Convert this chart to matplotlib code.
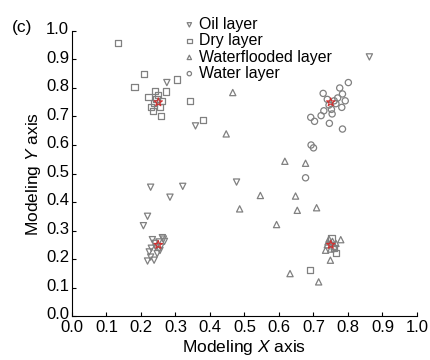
import matplotlib
matplotlib.use("Agg")
import matplotlib.pyplot as plt
from matplotlib.transforms import ScaledTranslation

plt.rcParams['font.family'] = ['Liberation Sans', 'DejaVu Sans']
plt.rcParams['mathtext.fontset'] = 'custom'
plt.rcParams['mathtext.it'] = 'Liberation Sans:italic'
plt.rcParams['mathtext.rm'] = 'Liberation Sans'

# Oil layer (down triangles)
oil_x = [0.862, 0.275, 0.358, 0.477, 0.228, 0.321, 0.284, 0.219, 0.207,
         0.233, 0.243, 0.224, 0.219, 0.238, 0.262, 0.252, 0.247, 0.228, 0.257,
         0.265, 0.240, 0.230, 0.255, 0.268]
oil_y = [0.909, 0.819, 0.667, 0.470, 0.452, 0.455, 0.417, 0.350, 0.317,
         0.268, 0.242, 0.225, 0.193, 0.196, 0.275, 0.260, 0.219, 0.207, 0.242,
         0.270, 0.255, 0.238, 0.230, 0.262]

# Dry layer (squares)
dry_x = [0.134, 0.208, 0.181, 0.304, 0.272, 0.342, 0.380, 0.258, 0.229,
         0.234, 0.222, 0.241, 0.256, 0.245, 0.250, 0.238, 0.260, 0.691, 0.766,
         0.760, 0.752]
dry_y = [0.958, 0.849, 0.804, 0.830, 0.788, 0.755, 0.688, 0.702, 0.732,
         0.718, 0.769, 0.790, 0.734, 0.760, 0.775, 0.748, 0.755, 0.161, 0.221,
         0.240, 0.272]

# Waterflooded layer (up triangles)
wf_x = [0.466, 0.447, 0.617, 0.677, 0.546, 0.648, 0.486, 0.653, 0.709,
        0.593, 0.632, 0.715, 0.779, 0.749, 0.735, 0.745, 0.755, 0.740, 0.760,
        0.750, 0.742, 0.765]
wf_y = [0.784, 0.639, 0.543, 0.536, 0.423, 0.421, 0.376, 0.371, 0.380,
        0.321, 0.149, 0.120, 0.268, 0.196, 0.231, 0.270, 0.262, 0.250, 0.245,
        0.235, 0.260, 0.255]

# Water layer (circles)
water_x = [0.677, 0.693, 0.700, 0.801, 0.692, 0.703, 0.746, 0.784, 0.728,
           0.776, 0.784, 0.754, 0.782, 0.730, 0.722, 0.792, 0.760, 0.745,
           0.770, 0.740, 0.765, 0.752]
water_y = [0.485, 0.600, 0.590, 0.819, 0.697, 0.683, 0.676, 0.656, 0.781,
           0.800, 0.779, 0.709, 0.732, 0.720, 0.703, 0.755, 0.755, 0.740,
           0.765, 0.760, 0.745, 0.725]

# cluster centres (red)
centre_x = [0.25, 0.25, 0.75, 0.75]
centre_y = [0.75, 0.25, 0.75, 0.25]

grey = '#808080'
fig = plt.figure(figsize=(4.31, 3.60), dpi=100)
ax = fig.add_axes([0.167, 0.122, 417 / 431 - 0.167, 0.792])

kw = dict(facecolor='none', edgecolors=grey, linewidths=0.9, s=20)
ax.scatter(oil_x, oil_y, marker='v', label='Oil layer', **kw)
ax.scatter(dry_x, dry_y, marker='s', label='Dry layer', **kw)
ax.scatter(wf_x, wf_y, marker='^', label='Waterflooded layer', **kw)
ax.scatter(water_x, water_y, marker='o', label='Water layer', **kw)
ax.scatter(centre_x, centre_y, marker='*', facecolor='none',
           edgecolors='#d03030', linewidths=0.8, s=40, zorder=3)

ax.set_xlim(0, 1.0)
ax.set_ylim(0, 1.0)
ticks = [i / 10 for i in range(11)]
ax.set_xticks(ticks)
ax.set_yticks(ticks)
ax.set_xticklabels(['%.1f' % t for t in ticks])
ax.set_yticklabels(['%.1f' % t for t in ticks])
ax.tick_params(direction='in', length=3, labelsize=12, pad=2)
ax.tick_params(axis='x', pad=3)
# nudge y tick labels up a little, as in the original
shift = ScaledTranslation(0, 2 / 72, fig.dpi_scale_trans)
for lab in ax.get_yticklabels():
    lab.set_transform(lab.get_transform() + shift)
for side in ['top', 'right']:
    ax.spines[side].set_visible(False)
ax.set_xlabel('Modeling $X$ axis', fontsize=12.5, labelpad=2)
ax.set_ylabel('Modeling $Y$ axis', fontsize=12.5, labelpad=2)

ax.legend(loc='upper left', bbox_to_anchor=(183 / 431, 1 - 17 / 360),
          bbox_transform=fig.transFigure, frameon=False,
          fontsize=11.4, handletextpad=0.2, labelspacing=0.08, borderpad=0,
          borderaxespad=0, handlelength=0.8, markerscale=0.7)

fig.text(12 / 431, 1 - 32 / 360, '(c)', fontsize=12.5)

fig.savefig('out.png', dpi=100)
